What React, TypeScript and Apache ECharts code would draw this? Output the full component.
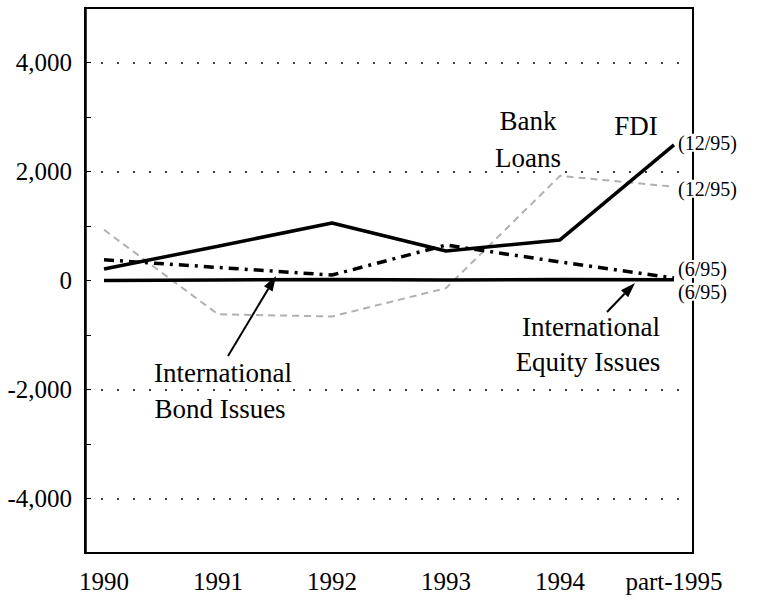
import React, { useEffect, useRef } from 'react';
import * as echarts from 'echarts';

const categories = ['1990', '1991', '1992', '1993', '1994', 'part-1995'];
const fdi = [210, 630, 1055, 540, 745, 2490];
const bankLoans = [930, -620, -660, -140, 1920, 1720];
const bondIssues = [380, 240, 100, 650, 340, 45];
const equityIssues = [0, 10, 20, 10, 20, 15];
const endNotes = ['(12/95)', '(12/95)', '(6/95)', '(6/95)'];
const gridValues = [4000, 2000, -2000, -4000];
const yLabelValues = [4000, 2000, 0, -2000, -4000];

const STEP = 6;
const FONT = '"Liberation Serif", "Times New Roman", serif';
const toPoints = (vals: number[]) => vals.map((v, i) => [i * STEP, v]);

function arrow(x1: number, y1: number, x2: number, y2: number, head = 15, half = 5) {
  const dx = x2 - x1, dy = y2 - y1, len = Math.hypot(dx, dy);
  const ux = dx / len, uy = dy / len;
  const bx = x2 - ux * head, by = y2 - uy * head;
  return [
    { type: 'line', shape: { x1, y1, x2: bx, y2: by }, style: { stroke: '#000', lineWidth: 2 } },
    {
      type: 'polygon',
      shape: { points: [[x2, y2], [bx - uy * half, by + ux * half], [bx + uy * half, by - ux * half]] },
      style: { fill: '#000' },
    },
  ];
}

function txt(text: string, x: number, y: number, size = 27) {
  return {
    type: 'text', x, y,
    style: {
      text, font: `${size}px ${FONT}`, fill: '#000',
      align: 'center', verticalAlign: 'middle', textAlign: 'center', textVerticalAlign: 'middle',
    },
  };
}

const fmtY = (v: number) => {
  if (!yLabelValues.includes(v)) return '';
  const a = Math.abs(v);
  const s = a >= 1000 ? `${Math.floor(a / 1000)},${String(a % 1000).padStart(3, '0')}` : String(a);
  return (v < 0 ? '-' : '') + s;
};

const fmtX = (v: number) => {
  const r = Math.round(v);
  if (Math.abs(v - r) > 1e-6 || r % STEP !== 0) return '';
  const i = r / STEP;
  return categories[i] ?? '';
};

const endLabel = (text: string, dy: number) => ({
  show: true,
  formatter: text,
  distance: 3,
  offset: [0, dy],
  fontFamily: FONT,
  fontSize: 20,
  lineHeight: 18,
  color: '#000',
  backgroundColor: '#fff',
  padding: [0, 1],
});

export default function App() {
  const ref = useRef<HTMLDivElement>(null);
  useEffect(() => {
    if (!ref.current) return;
    const chart = echarts.init(ref.current, undefined, { renderer: 'svg' });
    chart.setOption({
      animation: false,
      backgroundColor: '#fff',
      grid: { left: 85, right: 73, top: 8, bottom: 48, show: true, borderColor: '#000', borderWidth: 2 },
      xAxis: {
        type: 'value', min: -1, max: 31, interval: 1,
        axisLine: { show: true, onZero: false, lineStyle: { color: '#000', width: 2 } },
        axisTick: { show: false },
        splitLine: { show: false },
        axisLabel: { formatter: fmtX, fontFamily: FONT, fontSize: 25, color: '#000', margin: 16 },
      },
      yAxis: {
        type: 'value', min: -5000, max: 5000, interval: 1000,
        axisLine: { show: true, onZero: false, lineStyle: { color: '#000', width: 2.5 } },
        axisTick: { show: true, inside: true, length: 6, lineStyle: { color: '#000', width: 1 } },
        splitLine: { show: false },
        axisLabel: { formatter: fmtY, fontFamily: FONT, fontSize: 25, color: '#000', margin: 13 },
      },
      series: [
        {
          name: 'Bank Loans', type: 'line', data: toPoints(bankLoans), showSymbol: false, symbol: 'none',
          lineStyle: { color: '#b0b0b0', width: 2, type: [7, 5] },
          endLabel: endLabel(endNotes[1], 2),
          z: 2,
        },
        {
          name: 'International Equity Issues', type: 'line', data: toPoints(equityIssues), showSymbol: false, symbol: 'none',
          lineStyle: { color: '#000', width: 3.5 },
          endLabel: endLabel(endNotes[3], 12),
          markLine: {
            silent: true, symbol: ['none', 'none'], label: { show: false },
            lineStyle: { color: '#000', width: 1.5, type: [2, 14] },
            data: gridValues.map((v) => ({ yAxis: v })),
          },
          z: 3,
        },
        {
          name: 'International Bond Issues', type: 'line', data: toPoints(bondIssues), showSymbol: false, symbol: 'none',
          lineStyle: { color: '#000', width: 3.5, type: [10, 6, 3, 6] },
          endLabel: endLabel(endNotes[2], -9),
          z: 4,
        },
        {
          name: 'FDI', type: 'line', data: toPoints(fdi), showSymbol: false, symbol: 'none',
          lineStyle: { color: '#000', width: 3.5 },
          endLabel: endLabel(endNotes[0], -2),
          z: 5,
        },
      ],
      graphic: [
        txt('Bank', 528, 121),
        txt('Loans', 528, 158),
        txt('FDI', 636, 126),
        txt('International', 223, 373),
        txt('Bond Issues', 220, 409),
        txt('International', 591, 327),
        txt('Equity Issues', 588, 362),
        ...arrow(228, 356, 276, 276),
        ...arrow(607, 312, 635, 283),
      ],
    });
    return () => chart.dispose();
  }, []);
  return <div ref={ref} style={{ position: 'absolute', left: 0, top: 0, width: 766, height: 601 }} />;
}
